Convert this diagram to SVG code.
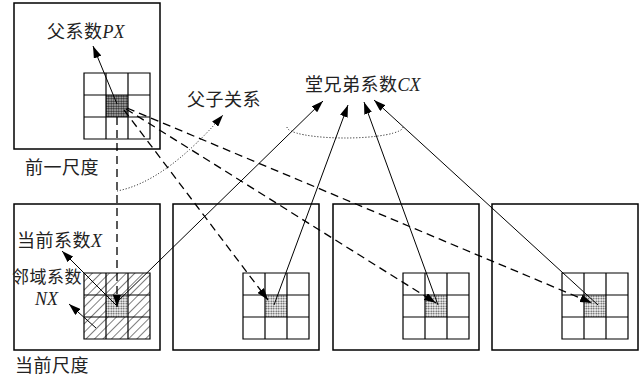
<svg xmlns="http://www.w3.org/2000/svg" width="639" height="380" viewBox="0 0 639 380">
<style>
.box{fill:#fff;stroke:#000;stroke-width:1.5}
.cell{fill:none;stroke:#000;stroke-width:1.2}
.t{font-family:"Noto Sans CJK SC","Noto Sans",sans-serif;font-size:18px;letter-spacing:0.5px;fill:#222}
.m{font-family:"Liberation Serif",serif;font-style:italic;letter-spacing:0}
.ln{stroke:#000;stroke-width:1;fill:none}
.da{stroke:#000;stroke-width:1.3;stroke-dasharray:8 5;fill:none}
.dot{stroke:#000;stroke-width:1;stroke-dasharray:1 2;fill:none}
</style>
<defs>
<marker id="ah" viewBox="0 0 12 8" refX="12" refY="4" markerWidth="12" markerHeight="8" orient="auto" markerUnits="userSpaceOnUse"><path d="M0,0 L12,4 L0,8 z" fill="#000"/></marker>
<pattern id="dots" width="2.5" height="2.5" patternUnits="userSpaceOnUse"><rect width="2.5" height="2.5" fill="#fff"/><circle cx="1.25" cy="1.25" r="0.9" fill="#444"/></pattern>
<pattern id="dots2" width="2.5" height="2.5" patternUnits="userSpaceOnUse"><rect width="2.5" height="2.5" fill="#ccc"/><circle cx="1.25" cy="1.25" r="1.05" fill="#222"/></pattern>
<pattern id="hatch" width="6" height="6" patternUnits="userSpaceOnUse" patternTransform="rotate(45)"><line x1="0" y1="0" x2="0" y2="6" stroke="#000" stroke-width="1"/></pattern>
<g id="grid"><path class="cell" d="M0,0H66V66H0Z M22,0V66 M44,0V66 M0,22H66 M0,44H66"/></g>
</defs>

<g id="prev-scale">
<rect class="box" x="14" y="3" width="146" height="146"/>
<rect x="106" y="95" width="22" height="22" fill="url(#dots2)"/>
<use href="#grid" x="84" y="73"/>
<text class="t" x="25" y="174">前一尺度</text>
</g>

<g id="cur-scale-1">
<rect class="box" x="14" y="204" width="146" height="146"/>
<rect x="84" y="273" width="66" height="66" fill="url(#hatch)"/>
<rect x="106" y="295" width="22" height="22" fill="url(#dots)"/>
<use href="#grid" x="84" y="273"/>
<text class="t" x="15" y="372">当前尺度</text>
</g>
<g id="cur-scale-2">
<rect class="box" x="173" y="204" width="146" height="146"/>
<rect x="265" y="295" width="22" height="22" fill="url(#dots)"/>
<use href="#grid" x="243" y="273"/>
</g>
<g id="cur-scale-3">
<rect class="box" x="333" y="204" width="146" height="146"/>
<rect x="425" y="295" width="22" height="22" fill="url(#dots)"/>
<use href="#grid" x="403" y="273"/>
</g>
<g id="cur-scale-4">
<rect class="box" x="492" y="204" width="146" height="146"/>
<rect x="584" y="295" width="22" height="22" fill="url(#dots)"/>
<use href="#grid" x="562" y="273"/>
</g>

<g id="connectors">
<line class="ln" x1="117" y1="104" x2="93" y2="46" marker-end="url(#ah)"/>
<line class="da" x1="117" y1="117" x2="117" y2="307" marker-end="url(#ah)"/>
<line class="da" x1="124" y1="110" x2="268" y2="300" marker-end="url(#ah)"/>
<line class="da" x1="126" y1="109" x2="436" y2="303" marker-end="url(#ah)"/>
<line class="da" x1="127" y1="108" x2="592" y2="303" marker-end="url(#ah)"/>
<line class="ln" x1="116" y1="303" x2="323" y2="101" marker-end="url(#ah)"/>
<line class="ln" x1="274" y1="305" x2="348" y2="105" marker-end="url(#ah)"/>
<line class="ln" x1="438" y1="305" x2="364" y2="102" marker-end="url(#ah)"/>
<line class="ln" x1="598" y1="305" x2="374" y2="100" marker-end="url(#ah)"/>
<line class="ln" x1="116" y1="305" x2="62" y2="251" marker-end="url(#ah)"/>
<line class="ln" x1="96" y1="328" x2="69" y2="304" marker-end="url(#ah)"/>
<path class="dot" d="M117,191 Q165,182 223,115" marker-end="url(#ah)"/>
<path class="dot" d="M287,127 A58,11 0 0 0 403,127"/>
</g>

<g id="labels">
<text class="t" x="47" y="38">父系数<tspan class="m">PX</tspan></text>
<text class="t" x="187" y="106">父子关系</text>
<text class="t" x="305" y="91">堂兄弟系数<tspan class="m">CX</tspan></text>
<text class="t" x="17" y="247">当前系数<tspan class="m">X</tspan></text>
<text class="t" x="12" y="283" style="font-size:17px">邻域系数</text>
<text class="t m" x="35" y="305">NX</text>
</g>
</svg>
